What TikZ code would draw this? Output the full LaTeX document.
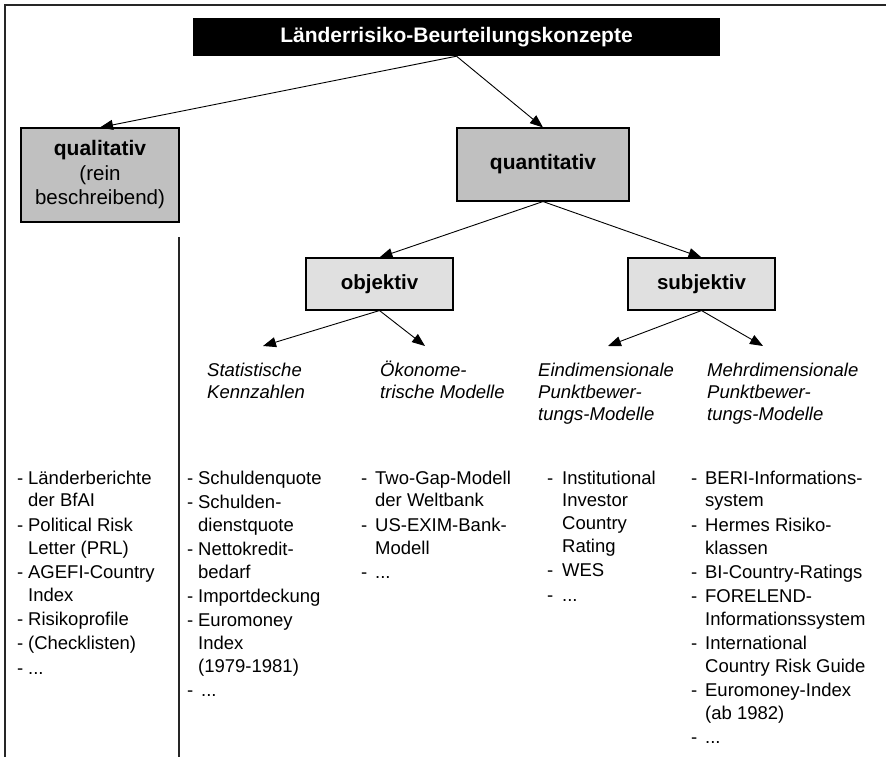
\documentclass[tikz,border=0pt]{standalone}
\usepackage{fontspec}
\setmainfont{Liberation Sans}
\usetikzlibrary{arrows.meta}
\definecolor{boxgray}{HTML}{C0C0C0}
\definecolor{boxlight}{HTML}{E0E0E0}
\tikzset{
  frameline/.style={line width=1.3pt, black!85},
  mainbox/.style={draw=black, line width=1.1pt, fill=boxgray, inner sep=0pt, align=center,
    font=\fontsize{20.5}{24.5}\selectfont},
  subbox/.style={draw=black, line width=1.1pt, fill=boxlight, inner sep=0pt, align=center,
    font=\fontsize{20.5}{24.5}\selectfont\bfseries},
  titlebox/.style={fill=black, inner sep=0pt, text=white, font=\fontsize{21}{25}\selectfont\bfseries},
  arr/.style={-{Triangle[length=13pt,width=10pt]}, line width=0.9pt},
  lbl/.style={inner sep=0pt, anchor=north west, font=\fontsize{18.5}{22}\selectfont\itshape},
  lst/.style={inner sep=0pt, anchor=north west, font=\fontsize{18.5}{22.8}\selectfont},
}
\begin{document}
\begin{tikzpicture}[x=1pt,y=-1pt]
\useasboundingbox (0,0) rectangle (886,757);
% frame
\draw[frameline] (886,5) -- (5,5) -- (5,757);
\draw[frameline] (179,237) -- (179,757);
% boxes
\node[titlebox, minimum width=527pt, minimum height=38pt] (title) at (456.5,37) {Länderrisiko-Beurteilungskonzepte};
\node[mainbox, minimum width=158pt, minimum height=94pt] (qual) at (100,175) {\textbf{\fontsize{21}{24.5}\selectfont qualitativ}\\(rein\\beschreibend)};
\node[mainbox, minimum width=172pt, minimum height=73pt, font=\fontsize{21}{24.5}\selectfont\bfseries] (quant) at (543,164.5) {quantitativ};
\node[subbox, minimum width=147pt, minimum height=52pt] (obj) at (379.5,284) {objektiv};
\node[subbox, minimum width=147pt, minimum height=52pt] (subj) at (701.5,284) {subjektiv};
% arrow ends
\coordinate (a1) at (263,346);
\coordinate (a2) at (425,346);
\coordinate (b1) at (608,346);
\coordinate (b2) at (763,346);
% connectors
\draw[arr] (title.south) -- (qual.north);
\draw[arr] (title.south) -- (quant.north);
\draw[arr] (quant.south) -- (obj.north);
\draw[arr] (quant.south) -- (subj.north);
\draw[arr] (obj.south) -- (a1);
\draw[arr] (obj.south) -- (a2);
\draw[arr] (subj.south) -- (b1);
\draw[arr] (subj.south) -- (b2);
% italic labels
\node[lbl] (l1) at (207,360.6) {\begin{tabular}{@{}l@{}}Statistische\\Kennzahlen\end{tabular}};
\node[lbl] (l2) at (380,360.6) {\begin{tabular}{@{}l@{}}Ökonome-\\trische Modelle\end{tabular}};
\node[lbl] (l3) at (538,360.6) {\begin{tabular}{@{}l@{}}Eindimensionale\\Punktbewer-\\tungs-Modelle\end{tabular}};
\node[lbl] (l4) at (707,360.6) {\begin{tabular}{@{}l@{}}Mehrdimensionale\\Punktbewer-\\tungs-Modelle\end{tabular}};
% lists
\node[lst] (c1) at (17,468) {\begin{tabular}{@{}l@{\hspace{4.8pt}}l@{}}
-&Länderberichte\\&der BfAI\\[1.5pt]
-&Political Risk\\&Letter (PRL)\\[1.5pt]
-&AGEFI-Country\\&Index\\[1.5pt]
-&Risikoprofile\\[1.5pt]
-&(Checklisten)\\[1.5pt]
-&...
\end{tabular}};
\node[lst] (c2) at (187,468) {\begin{tabular}{@{}l@{\hspace{4.8pt}}l@{}}
-&Schuldenquote\\[1.5pt]
-&Schulden-\\&dienstquote\\[1.5pt]
-&Nettokredit-\\&bedarf\\[1.5pt]
-&Importdeckung\\[1.5pt]
-&Euromoney\\&Index\\&(1979-1981)\\[1.5pt]
-&\hspace{3pt}...
\end{tabular}};
\node[lst] (c3) at (361,468) {\begin{tabular}{@{}l@{\hspace{7.8pt}}l@{}}
-&Two-Gap-Modell\\&der Weltbank\\[1.5pt]
-&US-EXIM-Bank-\\&Modell\\[1.5pt]
-&...
\end{tabular}};
\node[lst] (c4) at (547,468) {\begin{tabular}{@{}l@{\hspace{8.8pt}}l@{}}
-&Institutional\\&Investor\\&Country\\&Rating\\[1.5pt]
-&WES\\[1.5pt]
-&...
\end{tabular}};
\node[lst] (c5) at (691,468) {\begin{tabular}{@{}l@{\hspace{7.8pt}}l@{}}
-&BERI-Informations-\\&system\\[1.5pt]
-&Hermes Risiko-\\&klassen\\[1.5pt]
-&BI-Country-Ratings\\[1.5pt]
-&FORELEND-\\&Informationssystem\\[1.5pt]
-&International\\&Country Risk Guide\\[1.5pt]
-&Euromoney-Index\\&(ab 1982)\\[1.5pt]
-&...
\end{tabular}};
\end{tikzpicture}
\end{document}
